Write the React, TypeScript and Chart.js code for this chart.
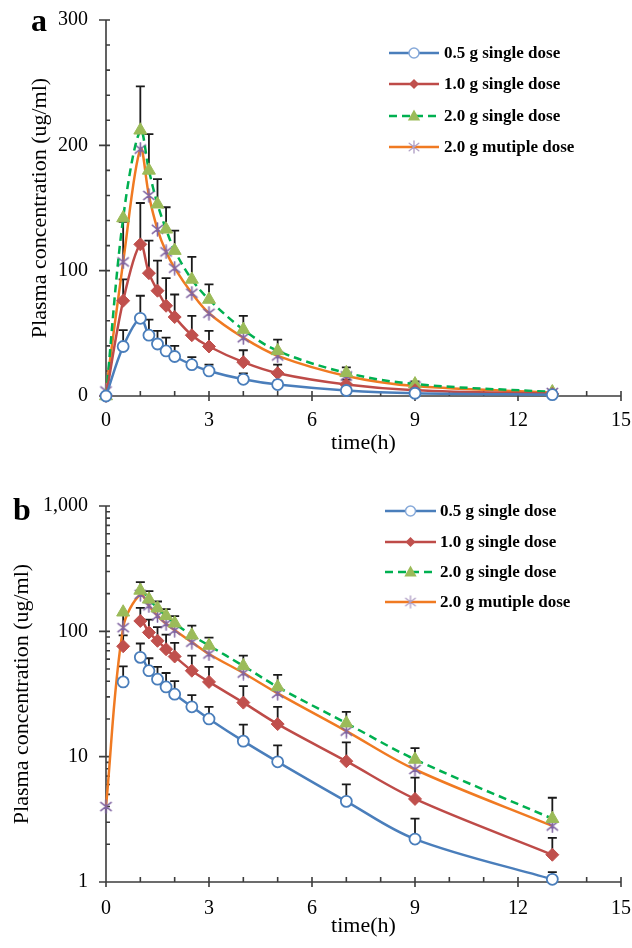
import React, { useEffect, useRef } from "react";
import { Chart, registerables } from "chart.js";

Chart.register(...registerables);

// ---------- data ----------
const times = [0, 0.5, 1, 1.25, 1.5, 1.75, 2, 2.5, 3, 4, 5, 7, 9, 13];

const dose05 = [0, 39.5, 62, 48.5, 41.5, 36, 31.5, 25, 20, 13.3, 9.1, 4.4, 2.2, 1.05];
const dose05Sd = [0, 13, 18, 12.5, 10.5, 10.5, 8.5, 6, 5, 4.7, 3.2, 1.6, 1.0, 0.15];

const dose10 = [0, 76, 121, 98, 84, 72, 63, 48.5, 39.5, 27, 18.2, 9.2, 4.6, 1.65];
const dose10Sd = [0, 17, 33, 26, 24, 22, 18, 15.5, 12.5, 9.5, 6.8, 3.8, 2.2, 0.6];

const dose20 = [0, 142, 212, 180, 153, 133, 116, 93, 77, 53, 36, 18.5, 9.5, 3.2];
const dose20Sd = [0, 0, 35, 29, 20, 17.6, 16, 18, 12, 11, 9, 4.3, 2.2, 1.5];

const multi20 = [4, 107, 197, 160, 133, 115, 102, 82, 66, 46.5, 32, 16, 7.9, 2.8];
const multi20Sd = [0, 32, 0, 0, 0, 0, 0, 0, 0, 0, 0, 0, 0, 0];

const seriesLabels = [
  "0.5 g single dose",
  "1.0 g single dose",
  "2.0 g single dose",
  "2.0 g mutiple dose",
];

const xTicks = [0, 3, 6, 9, 12, 15];
const yLinearTicks = [0, 100, 200, 300];
const yLogTicks = [1, 10, 100, 1000];

const xTitle = "time(h)";
const yTitle = "Plasma concentration (ug/ml)";

// ---------- styles ----------
const FONT = "'Liberation Serif', 'Times New Roman', serif";

const styles = [
  { line: "#4A7EBB", dash: [] as number[], point: "circle", fill: "#FFFFFF", border: "#4A7EBB", r: 5.5, bw: 1.8, lgBorder: "#86A9D9", lgFill: "#FFFFFF", lgR: 5 },
  { line: "#BE4B48", dash: [] as number[], point: "rectRot", fill: "#C0504D", border: "#C0504D", r: 6.5, bw: 1, lgBorder: "#C0504D", lgFill: "#C0504D", lgR: 5 },
  { line: "#00B050", dash: [8, 5], point: "triangle", fill: "#9BBB59", border: "#9BBB59", r: 7.5, bw: 1, lgBorder: "#9BBB59", lgFill: "#9BBB59", lgR: 6.5 },
  { line: "#F07A22", dash: [] as number[], point: "star", fill: "#8064A2", border: "#8064A2", r: 7, bw: 1.5, lgBorder: "#B3A2C7", lgFill: "#B3A2C7", lgR: 6 },
];

function makeStar(color: string, size: number, lw: number) {
  const c = document.createElement("canvas");
  c.width = size;
  c.height = size;
  const g = c.getContext("2d")!;
  g.strokeStyle = color;
  g.lineWidth = lw;
  g.lineCap = "round";
  const m = size / 2;
  const r = size / 2 - 1;
  g.beginPath();
  g.moveTo(m, m - r);
  g.lineTo(m, m + r);
  const dx = r * 0.8;
  const dy = r * 0.62;
  g.moveTo(m - dx, m - dy);
  g.lineTo(m + dx, m + dy);
  g.moveTo(m - dx, m + dy);
  g.lineTo(m + dx, m - dy);
  g.stroke();
  return c;
}

function minorLinear(max: number, step: number, major: number) {
  const out: number[] = [];
  for (let v = 0; v <= max + 1e-9; v += step) if (Math.abs(v % major) > 1e-9) out.push(v);
  return out;
}
function minorLog(min: number, max: number) {
  const out: number[] = [];
  for (let d = min; d < max; d *= 10) for (let k = 2; k <= 9; k++) out.push(d * k);
  return out;
}

// ---------- plugins ----------
const decorPlugin = {
  id: "decor",
  beforeDatasetsDraw(chart: any) {
    const o = chart.options.plugins.decor;
    const ctx = chart.ctx;
    const a = chart.chartArea;
    const xs = chart.scales.x;
    const ys = chart.scales.y;
    ctx.save();
    ctx.strokeStyle = "#3c3c3c";
    ctx.lineWidth = 1.6;
    ctx.beginPath();
    ctx.moveTo(a.left, a.top);
    ctx.lineTo(a.left, a.bottom);
    ctx.moveTo(a.left - 7, a.bottom);
    ctx.lineTo(a.right, a.bottom);
    o.xMajor.forEach((v: number) => {
      const x = xs.getPixelForValue(v);
      ctx.moveTo(x, a.bottom - 5);
      ctx.lineTo(x, a.bottom + 5);
    });
    o.xMinor.forEach((v: number) => {
      const x = xs.getPixelForValue(v);
      ctx.moveTo(x, a.bottom);
      ctx.lineTo(x, a.bottom - 5);
    });
    o.yMajor.forEach((v: number) => {
      const y = ys.getPixelForValue(v);
      ctx.moveTo(a.left - 7, y);
      ctx.lineTo(a.left + 4, y);
    });
    o.yMinor.forEach((v: number) => {
      const y = ys.getPixelForValue(v);
      ctx.moveTo(a.left, y);
      ctx.lineTo(a.left + 4, y);
    });
    ctx.stroke();

    // error bars (upper SD)
    ctx.strokeStyle = "#1a1a1a";
    ctx.lineWidth = 1.8;
    ctx.beginPath();
    chart.data.datasets.forEach((ds: any) => {
      ds.data.forEach((p: any, i: number) => {
        const sd = ds.errorUp[i];
        if (!sd || p.y == null) return;
        const x = xs.getPixelForValue(p.x);
        const y0 = ys.getPixelForValue(p.y);
        const y1 = ys.getPixelForValue(p.y + sd);
        ctx.moveTo(x, y0);
        ctx.lineTo(x, y1);
        ctx.moveTo(x - 4.5, y1);
        ctx.lineTo(x + 4.5, y1);
      });
    });
    ctx.stroke();
    ctx.restore();
  },
  afterDraw(chart: any) {
    const o = chart.options.plugins.decor;
    const ctx = chart.ctx;
    ctx.save();
    // panel letter
    ctx.fillStyle = "#000";
    ctx.font = `bold 32px ${FONT}`;
    ctx.textBaseline = "alphabetic";
    ctx.textAlign = "left";
    ctx.fillText(o.letter, o.letterX, o.letterY);
    // legend
    const lg = o.legend;
    chart.data.datasets.forEach((ds: any, k: number) => {
      const st = styles[k];
      const y = lg.ys[k];
      ctx.strokeStyle = st.line;
      ctx.lineWidth = 2.5;
      ctx.setLineDash(st.dash);
      ctx.beginPath();
      ctx.moveTo(lg.x0, y);
      ctx.lineTo(lg.x1, y);
      ctx.stroke();
      ctx.setLineDash([]);
      const xm = (lg.x0 + lg.x1) / 2;
      ctx.fillStyle = st.lgFill;
      ctx.strokeStyle = st.lgBorder;
      ctx.lineWidth = 1.5;
      const r = st.lgR;
      ctx.beginPath();
      if (st.point === "circle") {
        ctx.arc(xm, y, r, 0, Math.PI * 2);
        ctx.fill();
        ctx.stroke();
      } else if (st.point === "rectRot") {
        ctx.moveTo(xm, y - r);
        ctx.lineTo(xm + r, y);
        ctx.lineTo(xm, y + r);
        ctx.lineTo(xm - r, y);
        ctx.closePath();
        ctx.fill();
      } else if (st.point === "triangle") {
        ctx.moveTo(xm, y - r);
        ctx.lineTo(xm + r * 0.95, y + r * 0.7);
        ctx.lineTo(xm - r * 0.95, y + r * 0.7);
        ctx.closePath();
        ctx.fill();
      } else {
        ctx.drawImage(o.legendStar, xm - o.legendStar.width / 2, y - o.legendStar.height / 2);
      }
      ctx.fillStyle = "#000";
      ctx.font = `bold 17px ${FONT}`;
      ctx.textBaseline = "middle";
      ctx.fillText(ds.label, lg.xt, y + 1);
    });
    ctx.restore();
  },
};

function buildDatasets(log: boolean, star: HTMLCanvasElement) {
  const valuesList = [dose05, dose10, dose20, multi20];
  const sdList = [dose05Sd, dose10Sd, dose20Sd, multi20Sd];
  return valuesList.map((vals, k) => {
    const st = styles[k];
    const startLine = log && k < 3 ? 2 : 0;
    return {
      label: seriesLabels[k],
      data: times.map((t, i) => ({ x: t, y: log && vals[i] <= 0 ? null : vals[i] })),
      errorUp: sdList[k],
      borderColor: st.line,
      borderWidth: 2.5,
      borderDash: st.dash,
      pointStyle: k === 3 ? star : st.point,
      pointRadius: st.r,
      pointBackgroundColor: st.fill,
      pointBorderColor: st.border,
      pointBorderWidth: st.bw,
      tension: 0.35,
      fill: false,
      clip: false,
      spanGaps: false,
      segment: {
        borderColor: (c: any) => (c.p0DataIndex < startLine ? "rgba(0,0,0,0)" : st.line),
      },
    };
  });
}

function makeConfig(log: boolean, star: HTMLCanvasElement, legendStar: HTMLCanvasElement): any {
  const tickFont = { family: FONT, size: 20 };
  const titleFont = { family: FONT, size: 22 };
  const yAfterFit = (s: any) => {
    s.width = 106;
    s.paddingTop = 0;
    s.paddingBottom = 0;
  };
  return {
    type: "line",
    data: { datasets: buildDatasets(log, star) },
    options: {
      animation: false,
      responsive: false,
      maintainAspectRatio: false,
      events: [],
      layout: { padding: { left: 0, right: 11, top: log ? 31 : 20, bottom: 0 } },
      plugins: {
        legend: { display: false },
        tooltip: { enabled: false },
        decor: {
          letter: log ? "b" : "a",
          letterX: log ? 13 : 31,
          letterY: log ? 45 : 31,
          xMajor: xTicks,
          xMinor: minorLinear(15, 1, 3),
          yMajor: log ? yLogTicks : yLinearTicks,
          yMinor: log ? minorLog(1, 1000) : minorLinear(300, 20, 100),
          legendStar,
          legend: log
            ? { x0: 385, x1: 436, xt: 440, ys: [36, 67, 97, 127] }
            : { x0: 389, x1: 439, xt: 444, ys: [53, 84, 116, 147] },
        },
      },
      scales: {
        x: {
          type: "linear",
          min: 0,
          max: 15,
          grid: { display: false, drawTicks: false },
          border: { display: false },
          afterBuildTicks: (s: any) => {
            s.ticks = xTicks.map((v) => ({ value: v }));
          },
          ticks: { color: "#000", font: tickFont, padding: log ? 15 : 13, maxRotation: 0, autoSkip: false },
          title: {
            display: true,
            text: xTitle,
            color: "#000",
            font: titleFont,
            padding: { top: 0, bottom: log ? 9 : 19 },
          },
          afterFit: (s: any) => {
            s.height = log ? 66 : 79;
            s.paddingLeft = 0;
            s.paddingRight = 0;
          },
        },
        y: log
          ? {
              type: "logarithmic",
              min: 1,
              max: 1000,
              grid: { display: false, drawTicks: false },
              border: { display: false },
              afterBuildTicks: (s: any) => {
                s.ticks = yLogTicks.map((v) => ({ value: v, major: true }));
              },
              ticks: {
                color: "#000",
                font: tickFont,
                padding: 18,
                autoSkip: false,
                callback: (v: any) => Number(v).toLocaleString("en-US"),
              },
              title: { display: true, text: yTitle, color: "#000", font: titleFont, padding: { top: 9, bottom: 0 } },
              afterFit: yAfterFit,
            }
          : {
              type: "linear",
              min: 0,
              max: 300,
              grid: { display: false, drawTicks: false },
              border: { display: false },
              afterBuildTicks: (s: any) => {
                s.ticks = yLinearTicks.map((v) => ({ value: v }));
              },
              ticks: { color: "#000", font: tickFont, padding: 18, autoSkip: false },
              title: { display: true, text: yTitle, color: "#000", font: titleFont, padding: { top: 27, bottom: 0 } },
              afterFit: yAfterFit,
            },
      },
    },
    plugins: [decorPlugin],
  };
}

export default function App() {
  const refA = useRef<HTMLCanvasElement>(null);
  const refB = useRef<HTMLCanvasElement>(null);

  useEffect(() => {
    const star = makeStar(styles[3].border, 15, 1.6);
    const legendStar = makeStar(styles[3].lgBorder, 14, 1.4);
    const a = new Chart(refA.current!, makeConfig(false, star, legendStar));
    const b = new Chart(refB.current!, makeConfig(true, star, legendStar));
    return () => {
      a.destroy();
      b.destroy();
    };
  }, []);

  return (
    <div style={{ position: "absolute", left: 0, top: 0, width: 632, height: 948, background: "#fff" }}>
      <canvas ref={refA} width={632} height={475} style={{ position: "absolute", left: 0, top: 0, width: 632, height: 475 }} />
      <canvas ref={refB} width={632} height={473} style={{ position: "absolute", left: 0, top: 475, width: 632, height: 473 }} />
    </div>
  );
}
